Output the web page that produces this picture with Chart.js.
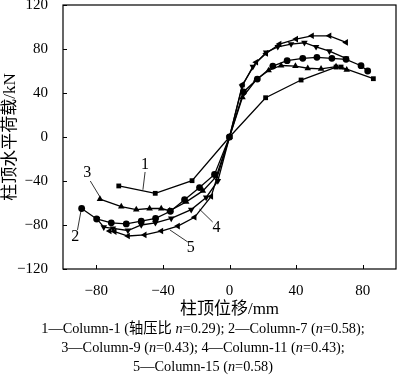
<!DOCTYPE html>
<html lang="zh">
<head>
  <meta charset="UTF-8">
  <title>柱顶荷载-位移骨架曲线</title>
  <script src="https://cdn.jsdelivr.net/npm/chart.js"></script>
  <style>
    body { margin: 0; background: #fff; }
    #wrap { position: relative; width: 400px; height: 376px; }
    #skeleton { position: absolute; left: 0; top: 0; }
    #caption {
      position: absolute; left: 0; top: 319px; width: 406px;
      text-align: center; font: 14.3px 'Liberation Serif', 'Noto Sans CJK SC', serif;
      line-height: 19px; color: #000; white-space: nowrap;
    }
  </style>
</head>
<body>
  <div id="wrap">
    <canvas id="skeleton" width="400" height="320"></canvas>
    <div id="caption">
      1—Column-1 (轴压比 <i>n</i>=0.29); 2—Column-7 (<i>n</i>=0.58);<br>
      3—Column-9 (<i>n</i>=0.43); 4—Column-11 (<i>n</i>=0.43);<br>
      5—Column-15 (<i>n</i>=0.58)
    </div>
  </div>
  <script>
    // skeleton curves (displacement mm, load kN)
    const col1X = [-66.5, -44.6, -22.5, 0, 21.7, 43, 64, 67, 86.4];
    const col1Y = [-44.5, -51.2, -39.7, 0, 35.7, 51.8, 63.6, 63.6, 53];

    const col7X = [-88.8, -79.8, -71, -62, -53, -44.4, -35.5, -27, -18, -9, 0, 8.4, 16.7, 26, 34.6, 44, 52.5, 61.5, 70, 79, 83];
    const col7Y = [-65, -74.5, -78, -79, -76.5, -74, -67.5, -57, -46, -34, 0, 41, 52.7, 64.5, 69.4, 71.5, 72.4, 71.5, 70.6, 64.8, 60];

    const col9X = [-77.8, -65, -56, -48, -41, -36, -26, -16, -8, 0, 7.8, 16, 23.5, 31, 39.6, 47, 55, 64, 70.4];
    const col9Y = [-56.4, -63.3, -66, -65, -65, -67, -59, -49, -36, 0, 36, 52, 60.5, 65, 64.5, 62.5, 62, 64, 61];

    const col11X = [-79.6, -75.5, -70, -61, -53, -44.5, -35, -23, -14, -7, 0, 7.5, 14, 22, 29, 37, 45, 52, 60, 70];
    const col11Y = [-74.5, -82, -83, -85, -80, -78, -74, -66, -55, -40, 0, 46, 64, 77, 82, 84.5, 85.7, 82, 78, 71.5];

    const col15X = [-72, -69, -61, -51, -41, -31, -21, -11, 0, 8, 16, 22, 30, 40, 49.5, 60, 70];
    const col15Y = [-85.5, -86, -90, -89, -85.5, -81, -73, -54, 0, 48, 68, 76, 84.5, 89, 92, 92, 86];

    const xTicks = [-80, -40, 0, 40, 80];
    const yTicks = [-120, -80, -40, 0, 40, 80, 120];

    // curve numbers with their leader lines (data coords)
    const labelText = ['1', '2', '3', '4', '5'];
    const labelX = [-50.7, -92.7, -85.4, -7.8, -23.3];
    const labelY = [-25.5, -91, -32.7, -82.7, -101];
    const leaderFrom = [[-50.7, -31.8], [-91.3, -84.5], [-83.6, -40], [-10.1, -77.3], [-25, -95.5]];
    const leaderTo = [[-52, -48], [-89.1, -66.4], [-77.8, -54.5], [-18.1, -65.5], [-35.8, -84.5]];

    const serif = "'Liberation Serif', 'Noto Sans CJK SC', serif";
    Chart.defaults.font.family = serif;
    Chart.defaults.color = '#000';

    const toPoints = (xs, ys) => xs.map((x, i) => ({ x: x, y: ys[i] }));

    const makeSeries = (name, xs, ys, style, rotation, radius) => ({
      label: name,
      data: toPoints(xs, ys),
      showLine: true,
      borderColor: '#000',
      backgroundColor: '#000',
      borderWidth: 1.3,
      pointStyle: style,
      rotation: rotation,
      pointRadius: radius,
      pointBorderWidth: 0,
    });

    // frame, inward ticks and the numbered leaders
    const framePlugin = {
      id: 'frame',
      afterDraw(chart) {
        const { ctx, chartArea, scales } = chart;
        const { left, right, top, bottom } = chartArea;
        ctx.save();
        ctx.strokeStyle = '#000';
        ctx.lineWidth = 1.2;
        ctx.strokeRect(left, top, right - left, bottom - top);

        ctx.lineWidth = 1;
        ctx.beginPath();
        xTicks.forEach(v => {
          const px = Math.round(scales.x.getPixelForValue(v)) + 0.5;
          ctx.moveTo(px, bottom);
          ctx.lineTo(px, bottom - 4);
        });
        yTicks.forEach(v => {
          const py = Math.round(scales.y.getPixelForValue(v)) + 0.5;
          ctx.moveTo(left, py);
          ctx.lineTo(left + 4, py);
        });
        ctx.stroke();

        ctx.lineWidth = 0.8;
        ctx.beginPath();
        leaderFrom.forEach((p, i) => {
          ctx.moveTo(scales.x.getPixelForValue(p[0]), scales.y.getPixelForValue(p[1]));
          ctx.lineTo(scales.x.getPixelForValue(leaderTo[i][0]), scales.y.getPixelForValue(leaderTo[i][1]));
        });
        ctx.stroke();

        ctx.fillStyle = '#000';
        ctx.font = '16px ' + serif;
        ctx.textAlign = 'center';
        ctx.textBaseline = 'middle';
        labelText.forEach((t, i) => {
          ctx.fillText(t, scales.x.getPixelForValue(labelX[i]), scales.y.getPixelForValue(labelY[i]));
        });
        ctx.restore();
      },
    };

    const minusFmt = v => (v < 0 ? '\u2212' + Math.abs(v) : String(v));

    new Chart(document.getElementById('skeleton'), {
      type: 'scatter',
      data: {
        datasets: [
          makeSeries('Column-1', col1X, col1Y, 'rect', 0, 3.4),
          makeSeries('Column-7', col7X, col7Y, 'circle', 0, 3.4),
          makeSeries('Column-9', col9X, col9Y, 'triangle', 0, 3.8),
          makeSeries('Column-11', col11X, col11Y, 'triangle', 180, 3.8),
          makeSeries('Column-15', col15X, col15Y, 'triangle', -90, 3.8),
        ],
      },
      options: {
        responsive: false,
        animation: false,
        layout: { padding: { top: 5, right: 1, left: 0, bottom: 0 } },
        plugins: { legend: { display: false }, tooltip: { enabled: false } },
        scales: {
          x: {
            type: 'linear',
            min: -100,
            max: 100,
            afterBuildTicks: s => { s.ticks = xTicks.map(v => ({ value: v })); },
            afterFit: s => { s.height = 51; s.paddingLeft = 0; s.paddingRight = 0; },
            grid: { display: false },
            border: { display: false },
            ticks: { font: { family: serif, size: 15 }, padding: 5, callback: minusFmt, maxRotation: 0 },
            title: { display: true, text: '柱顶位移/mm', font: { family: serif, size: 17 }, padding: { top: 4, bottom: 0 } },
          },
          y: {
            type: 'linear',
            min: -120,
            max: 120,
            afterBuildTicks: s => { s.ticks = yTicks.map(v => ({ value: v })); },
            afterFit: s => { s.width = 63; s.paddingTop = 0; s.paddingBottom = 0; },
            grid: { display: false },
            border: { display: false },
            ticks: { font: { family: serif, size: 15 }, padding: 7, callback: minusFmt },
            title: { display: true, text: '柱顶水平荷载/kN', font: { family: serif, size: 17 }, padding: { top: 0, bottom: 0 } },
          },
        },
      },
      plugins: [framePlugin],
    });
  </script>
</body>
</html>
